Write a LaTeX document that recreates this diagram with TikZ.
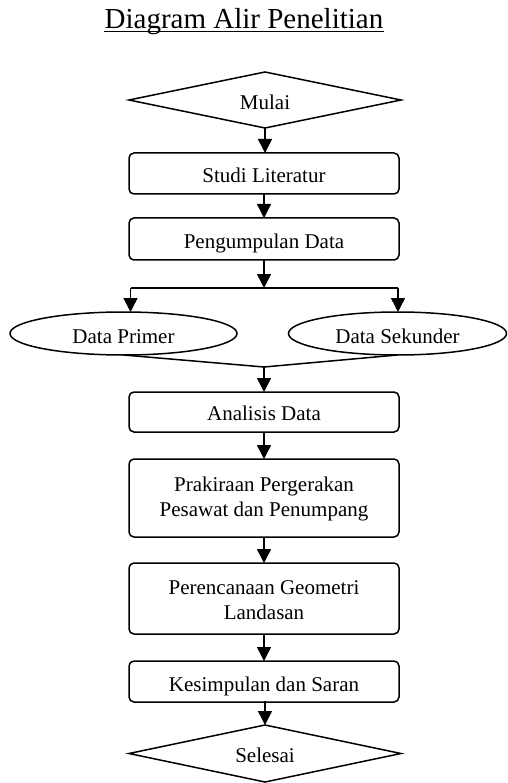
\documentclass[tikz,border=0pt]{standalone}
\usepackage{fontspec}
\setmainfont{Liberation Serif}
\usetikzlibrary{shapes.geometric,arrows.meta}
\begin{document}
\begin{tikzpicture}[x=1pt,y=-1pt,
  every node/.style={inner sep=0pt, outer sep=0pt},
  conn/.style={line width=1.5pt},
  arr/.style={line width=1.5pt, -{Triangle[length=14pt,width=14pt]}},
  box/.style={draw, line width=1.5pt, rounded corners=5pt, minimum width=270pt},
  dia/.style={draw, line width=1.5pt, diamond, aspect=4.86, minimum width=272pt, minimum height=56pt},
  ell/.style={draw, line width=1.5pt, ellipse, minimum height=43pt},
  txt/.style={font=\fontsize{21}{25.5}\selectfont, anchor=base, align=center},
  ttl/.style={font=\fontsize{29}{34}\selectfont, anchor=base}
]
\useasboundingbox (0,0) rectangle (507,783);

\node[ttl] (title) at (244,29) {Diagram Alir Penelitian};
\draw[line width=1pt] ([xshift=-0.5pt,yshift=-3pt]title.base west) -- ([xshift=0.5pt,yshift=-3pt]title.base east);

\node[dia] (mulai) at (265,100) {};
\node[txt] (tmulai) at (265,110) {Mulai};

\node[box, minimum height=41pt] (studi) at (264,173.5) {};
\node[txt] (tstudi) at (264,183) {Studi Literatur};

\node[box, minimum height=42pt] (kump) at (264,239) {};
\node[txt] (tkump) at (264,248) {Pengumpulan Data};

\coordinate (split) at (264,288);
\coordinate (sl) at (130.5,288);
\coordinate (sr) at (398,288);

\node[ell, minimum width=227pt] (primer) at (123.5,333.5) {};
\node[txt] (tprimer) at (123.5,343) {Data Primer};
\node[ell, minimum width=218pt] (sekunder) at (397.5,333.5) {};
\node[txt] (tsekunder) at (397.5,343) {Data Sekunder};

\coordinate (merge) at (264,367);

\node[box, minimum height=40pt] (analisis) at (264,412) {};
\node[txt] (tanalisis) at (264,420) {Analisis Data};

\node[box, minimum height=78pt] (prak) at (264,498) {};
\node[txt, anchor=center] (tprak) at (264,499) {Prakiraan Pergerakan\\Pesawat dan Penumpang};

\node[box, minimum height=71pt] (renc) at (264,598.5) {};
\node[txt, anchor=center] (trenc) at (264,600) {Perencanaan Geometri\\Landasan};

\node[box, minimum height=41pt] (kes) at (264,681.5) {};
\node[txt] (tkes) at (264,691) {Kesimpulan dan Saran};

\node[dia, minimum height=57pt] (selesai) at (265,753.5) {};
\node[txt] (tselesai) at (265,762) {Selesai};

\draw[arr] (mulai.south) -- (mulai.south |- studi.north);
\draw[arr] (studi) -- (kump);
\draw[arr] (kump) -- (split);
\draw[conn] (sl) -- (sr);
\draw[arr] (sl) -- (sl |- primer.north);
\draw[arr] (sr) -- (sr |- sekunder.north);
\draw[conn] (primer.south) -- (merge) -- (sekunder.south);
\draw[arr] (merge) -- (analisis.north);
\draw[arr] (analisis) -- (prak);
\draw[arr] (prak) -- (renc);
\draw[arr] (renc) -- (kes);
\draw[arr] (kes.south) -- (kes.south -| selesai.north) -- (selesai.north);
\end{tikzpicture}
\end{document}
